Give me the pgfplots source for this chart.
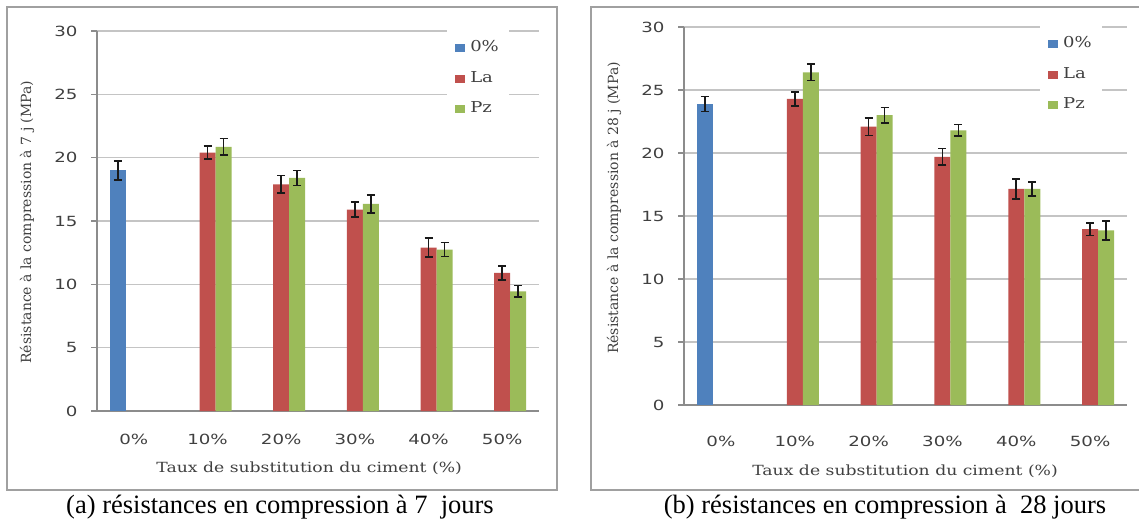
\documentclass[border=0pt]{standalone}
\usepackage{fontspec}
\usepackage{pgfplots}
\pgfplotsset{compat=1.18}
\setmainfont{Liberation Serif}
\newfontfamily\capfont{Liberation Serif}
\newfontfamily\tickfont[FakeStretch=1.3]{DejaVu Sans}
\newfontfamily\labfont[FakeStretch=1.23]{DejaVu Serif}
\newfontfamily\legfont[FakeStretch=1.2]{DejaVu Serif}
\newfontfamily\ylabfont{DejaVu Serif}
\definecolor{cblue}{HTML}{4F81BD}
\definecolor{cred}{HTML}{C0504D}
\definecolor{cgreen}{HTML}{9BBB59}
\definecolor{gridgray}{HTML}{C4C4C4}
\definecolor{axisgray}{HTML}{8C8C8C}
\definecolor{framegray}{HTML}{A0A0A0}
\pgfplotsset{
  mystyle/.style={
    scale only axis, anchor=south west,
    ybar=0pt, bar width=16pt,
    ymin=0, ymax=30, ytick={0,5,...,30},
    xmin=-0.5, xmax=5.5, xtick={0,...,5},
    xticklabels={0\%,10\%,20\%,30\%,40\%,50\%},
    axis x line*=bottom, axis y line*=left,
    x axis line style={-, draw=axisgray, line width=1.2pt},
    y axis line style={-, draw=axisgray, line width=1.2pt},
    ymajorgrids, grid style={gridgray, line width=1.3pt},
    tick align=outside, major tick length=6pt,
    ytick style={draw=axisgray, line width=1.2pt}, xtick style={draw=none},
    /pgf/number format/assume math mode=true,
    ticklabel style={font=\tickfont\fontsize{14pt}{16pt}\selectfont, text=black!75},
    yticklabel style={xshift=-10pt},
    label style={font=\labfont\fontsize{14pt}{16pt}\selectfont, text=black!75},
    ylabel style={font=\ylabfont\fontsize{14pt}{16pt}\selectfont, text=black!75},
    legend style={draw=none, fill=white, anchor=north west, inner xsep=8pt, inner ysep=12.5pt,
      font=\legfont\fontsize{15pt}{17pt}\selectfont, text=black!75,
      nodes={text height=9pt, text depth=2pt, inner sep=2pt}, row sep=15.5pt},
    legend cell align=left,
    every axis plot post/.append style={legend image code/.code={\fill[##1] (0pt,-4pt) rectangle (10pt,4pt); \path (13pt,0pt);}},
    every axis plot/.append style={draw=none,
      error bars/y dir=both, error bars/y explicit,
      error bars/error bar style={draw=black!90, line width=1.6pt},
      error bars/error mark options={rotate=90, draw=black!90, mark size=4pt, line width=1.6pt}},
  }
}
\begin{document}
\begin{tikzpicture}[x=1pt,y=1pt]
\path[use as bounding box] (0,0) rectangle (1139,523);
\draw[framegray, line width=1.6pt] (7,33) rectangle (557,516);
\draw[framegray, line width=1.6pt] (591,33) rectangle (1170,516);
\begin{axis}[mystyle, at={(97pt,112pt)}, width=442pt, height=380pt,
  xticklabel style={yshift=-14pt},
  xlabel={Taux de substitution du ciment (\%)},
  ylabel={Résistance à la compression à 7 j (MPa)},
  xlabel style={at={(axis description cs:0.48,-0.15)}, anchor=center},
  ylabel style={at={(axis description cs:-0.158,0.497)}, anchor=center},
  legend style={at={(axis description cs:0.792,1.008)}}]
\addplot[fill=cblue] coordinates {(0,19.0) +- (0,0.75)};
\addplot[fill=cred] coordinates {(1,20.4) +- (0,0.5) (2,17.9) +- (0,0.7) (3,15.9) +- (0,0.6) (4,12.9) +- (0,0.75) (5,10.9) +- (0,0.55)};
\addplot[fill=cgreen] coordinates {(1,20.85) +- (0,0.65) (2,18.4) +- (0,0.6) (3,16.35) +- (0,0.7) (4,12.75) +- (0,0.55) (5,9.45) +- (0,0.45)};
\legend{0\%,La,Pz}
\end{axis}
\begin{axis}[mystyle, at={(684pt,118pt)}, width=443pt, height=378pt,
  xticklabel style={yshift=-22pt},
  xlabel={Taux de substitution du ciment (\%)},
  ylabel={Résistance à la compression à 28 j (MPa)},
  xlabel style={at={(axis description cs:0.499,-0.175)}, anchor=center},
  ylabel style={at={(axis description cs:-0.158,0.521)}, anchor=center},
  legend style={at={(axis description cs:0.8036,1.008)}}]
\addplot[fill=cblue] coordinates {(0,23.9) +- (0,0.6)};
\addplot[fill=cred] coordinates {(1,24.3) +- (0,0.55) (2,22.1) +- (0,0.7) (3,19.7) +- (0,0.65) (4,17.15) +- (0,0.8) (5,13.95) +- (0,0.5)};
\addplot[fill=cgreen] coordinates {(1,26.4) +- (0,0.65) (2,23.0) +- (0,0.6) (3,21.8) +- (0,0.45) (4,17.15) +- (0,0.55) (5,13.85) +- (0,0.75)};
\legend{0\%,La,Pz}
\end{axis}
\node[anchor=base, font=\capfont\fontsize{26.5pt}{28pt}\selectfont] at (280,10) {(a) résistances en compression à 7\ \ jours};
\node[anchor=base, font=\capfont\fontsize{26.5pt}{28pt}\selectfont] at (885,10) {(b) résistances en compression à\ \ 28 jours};
\end{tikzpicture}
\end{document}
